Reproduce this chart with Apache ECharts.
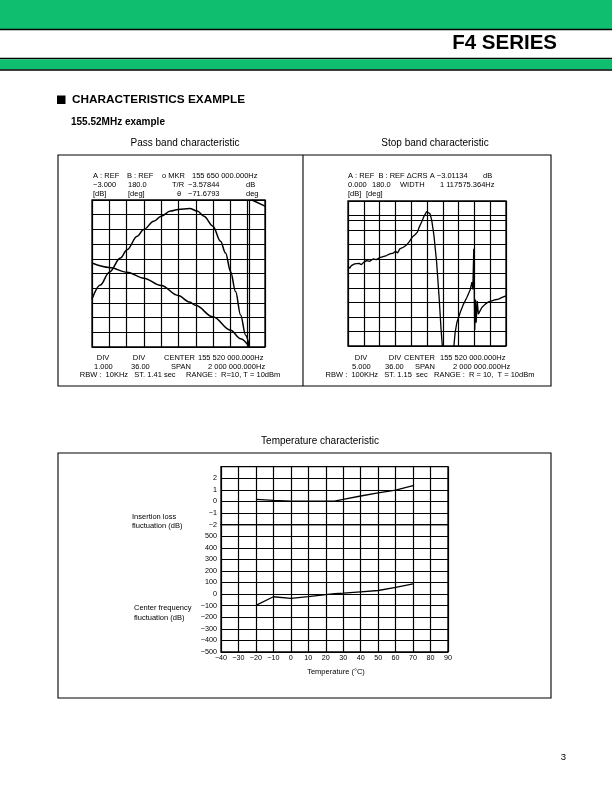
<!DOCTYPE html>
<html><head><meta charset="utf-8">
<script src="https://cdn.jsdelivr.net/npm/echarts@6/dist/echarts.min.js"></script>
<style>html,body{margin:0;padding:0;background:#fff}#c{width:612px;height:792px}</style>
</head><body><div id="c"></div>
<script>
// ---------- Pass band (x: kHz offset from 155.52 MHz) ----------
const passFreq = [-1000, -904, -800, -672, -594, -478, -402, -286, -200, -92, -4, 130, 216, 294, 398, 486, 544, 602, 660, 718, 776, 820];
const passAmp  = [-9.74, -8.78, -7.91, -6.95, -6.38, -5.47, -5.01, -4.44, -4.10, -3.75, -3.64, -3.58, -3.75, -4.10, -4.78, -5.81, -6.61, -7.86, -9.23, -10.83, -12.20, -13.0];
const passPhaseFreq = [-1000, -800, -594, -402, -200, -4, 130, 196, 398, 602, 718, 820];
const passPhase     = [25.6, 14.8, 3.2, -11.5, -29.5, -54.0, -70.0, -78.0, -106.2, -139.0, -159.5, -180.0];
const passWrapFreq  = [850, 1000];
const passWrapPhase = [180, 165];
const passMarkerFreq = 820;

// ---------- Stop band ----------
const stopFreq1 = [-1000, -978, -958, -936, -916, -894, -860, -830, -800, -766, -724, -682, -640, -598, -556, -512, -470, -450, -428, -398, -372, -344, -300, -258, -228, -204, -186, -166, -152, -122, -98, -68, -38, -4, 16, 38, 60, 88, 122, 152, 178, 194, 200];
const stopAmp1  = [-22.5, -23.2, -22.3, -22.85, -21.7, -22.3, -21.5, -21.95, -21.15, -20.55, -20.8, -20.0, -20.2, -19.5, -19.15, -18.8, -18.25, -17.65, -18.0, -17.3, -17.9, -16.5, -15.95, -15.15, -14.2, -13.95, -12.45, -12.8, -11.65, -10.75, -9.0, -7.25, -5.3, -3.6, -3.45, -4.4, -6.7, -11.9, -21.15, -32.7, -44.25, -50.0, -52.5];
const stopFreq2 = [332, 356, 378, 420, 462, 504, 546, 568, 580, 592, 604, 614, 622, 636, 650, 694, 738, 780, 822, 864, 906, 950, 1000];
const stopAmp2  = [-52.5, -45.4, -41.9, -38.45, -35.55, -33.25, -30.7, -28.0, -30.5, -16.5, -44.5, -34.0, -42.0, -34.5, -39.0, -36.7, -35.55, -34.75, -34.4, -34.05, -33.85, -33.25, -32.7];
const stopMarkerDb = -6.5;

// ---------- Temperature ----------
const tempC    = [-20, -10, 0, 10, 20, 25, 30, 40, 50, 60, 70];
const insLoss  = [0.17, 0.09, 0.03, 0.02, 0.02, 0.03, 0.17, 0.47, 0.74, 0.97, 1.37];
const cfShift  = [-97, -23, -37, -22, -5, 3, 8, 20, 31, 58, 89];

const zip = (a, b) => a.map((v, i) => [v, b[i]]);
const FONT = "'Liberation Sans', Arial, Helvetica, sans-serif";
const minus = v => String(v).replace('-', '\u2212');

function T(text, x, y, size, o) {
  o = o || {};
  return {
    type: 'text', x: x, y: y, silent: true,
    style: {
      text: text, fill: '#000',
      font: (o.bold ? 'bold ' : '') + size + 'px ' + FONT,
      align: o.align || 'left', verticalAlign: 'middle',
      textAlign: o.align || 'left', textVerticalAlign: 'middle'
    }
  };
}
function R(x, y, w, h, fill, stroke, lw) {
  return { type: 'rect', silent: true, shape: { x: x, y: y, width: w, height: h },
    style: { fill: fill || 'none', stroke: stroke || 'none', lineWidth: lw || 0 } };
}
function L(x1, y1, x2, y2, lw) {
  return { type: 'line', silent: true, shape: { x1: x1, y1: y1, x2: x2, y2: y2 },
    style: { stroke: '#000', lineWidth: lw || 1 } };
}

const GREEN = '#0fbf6f';
const S = 7.5;
const graphics = [
  R(0, 0, 612, 29, GREEN),
  L(0, 29.5, 612, 29.5, 1.5),
  L(0, 58.5, 612, 58.5, 1.5),
  R(0, 59.2, 612, 10.3, GREEN),
  L(0, 70, 612, 70, 1.5),
  T('F4 SERIES', 557, 43, 20.5, { bold: true, align: 'right' }),
  R(57, 95.5, 8.5, 8.5, '#000'),
  T('CHARACTERISTICS EXAMPLE', 72, 100, 11.8, { bold: true }),
  T('155.52MHz example', 71, 122, 10, { bold: true }),
  T('Pass band characteristic', 185, 143, 10, { align: 'center' }),
  T('Stop band characteristic', 435, 143, 10, { align: 'center' }),
  R(58, 155, 493, 231, 'none', '#000', 1.1),
  L(303, 155, 303, 386, 1.1),
  // pass band header
  T('A : REF', 93, 175.5, S), T('B : REF', 127, 175.5, S), T('o MKR', 162, 175.5, S), T('155 650 000.000Hz', 192, 175.5, S),
  T('\u22123.000', 93, 185, S), T('180.0', 128, 185, S), T('T/R', 172, 185, S), T('\u22123.57844', 188, 185, S), T('dB', 246, 185, S),
  T('[dB]', 93, 194.3, S), T('[deg]', 128, 194.3, S), T('\u03b8', 177, 194.3, S), T('\u221271.6793', 188, 194.3, S), T('deg', 246, 194.3, S),
  // pass band footer
  T('DIV', 103, 358, S, { align: 'center' }), T('DIV', 139, 358, S, { align: 'center' }), T('CENTER', 164, 358, S), T('155 520 000.000Hz', 198, 358, S),
  T('1.000', 94, 366.5, S), T('36.00', 131, 366.5, S), T('SPAN', 171, 366.5, S), T('2 000 000.000Hz', 208, 366.5, S),
  T('RBW :  10KHz   ST. 1.41 sec     RANGE :  R=10, T = 10dBm', 180, 375, S, { align: 'center' }),
  // stop band header
  T('A : REF  B : REF \u0394CRS A \u22123.01134', 348, 175.5, S), T('dB', 483, 175.5, S),
  T('0.000', 348, 185, S), T('180.0', 372, 185, S), T('WIDTH', 400, 185, S), T('1 117575.364Hz', 440, 185, S),
  T('[dB]', 348, 194.3, S), T('[deg]', 366, 194.3, S),
  // stop band footer
  T('DIV', 361, 358, S, { align: 'center' }), T('DIV', 395, 358, S, { align: 'center' }), T('CENTER', 404, 358, S), T('155 520 000.000Hz', 440, 358, S),
  T('5.000', 352, 366.5, S), T('36.00', 385, 366.5, S), T('SPAN', 415, 366.5, S), T('2 000 000.000Hz', 453, 366.5, S),
  T('RBW :  100KHz   ST. 1.15  sec   RANGE :  R = 10,  T = 10dBm', 430, 375, S, { align: 'center' }),
  // temperature
  T('Temperature characteristic', 320, 441, 10, { align: 'center' }),
  R(58, 453, 493, 245, 'none', '#000', 1.1),
  T('Insertion loss', 132, 516.5, S), T('fluctuation (dB)', 132, 525.5, S),
  T('Center frequency', 134, 608, S), T('fluctuation (dB)', 134, 617.5, S),
  T('Temperature (\u00b0C)', 336, 672, S, { align: 'center' }),
  T('3', 566, 757, 9.5, { align: 'right' })
];

const split = { show: true, lineStyle: { color: '#000', width: 1.2 } };
const hiddenX = (min, max, iv, grid) => ({
  type: 'value', gridIndex: grid, min: min, max: max, interval: iv,
  axisLabel: { show: false }, axisTick: { show: false }, axisLine: { show: false }, splitLine: split
});
const hiddenY = (min, max, iv, grid, showSplit) => ({
  type: 'value', gridIndex: grid, min: min, max: max, interval: iv,
  axisLabel: { show: false }, axisTick: { show: false }, axisLine: { show: false },
  splitLine: showSplit ? split : { show: false }
});
const labelStyle = { color: '#000', fontSize: 7.2, fontFamily: FONT };
const gridBox = { show: true, borderColor: '#000', borderWidth: 1.3, backgroundColor: 'transparent' };
const lineS = (xi, yi, data, extra) => Object.assign({
  type: 'line', xAxisIndex: xi, yAxisIndex: yi, data: data, showSymbol: false, symbol: 'none',
  lineStyle: { color: '#000', width: 1.5 }, itemStyle: { color: '#000' }, animation: false, silent: true, clip: true
}, extra || {});

const option = {
  animation: false,
  backgroundColor: '#fff',
  grid: [
    Object.assign({ left: 92, top: 200, width: 173, height: 147 }, gridBox),
    Object.assign({ left: 348, top: 201, width: 158, height: 145 }, gridBox),
    Object.assign({ left: 221, top: 466.7, width: 227, height: 57.9 }, gridBox),
    Object.assign({ left: 221, top: 524.6, width: 227, height: 127.4 }, gridBox)
  ],
  xAxis: [
    hiddenX(-1000, 1000, 200, 0),
    hiddenX(-1000, 1000, 200, 1),
    hiddenX(-40, 90, 10, 2),
    { type: 'value', gridIndex: 3, min: -40, max: 90, interval: 10,
      axisLabel: { show: true, margin: 3, formatter: v => minus(v), ...labelStyle },
      axisTick: { show: false }, axisLine: { show: false }, splitLine: split }
  ],
  yAxis: [
    hiddenY(-13, -3, 1, 0, true),
    hiddenY(-180, 180, 36, 0, false),
    hiddenY(-50, 0, 5, 1, true),
    { type: 'value', gridIndex: 2, min: -2, max: 3, interval: 1,
      axisLabel: { show: true, margin: 4, formatter: v => v === 3 ? '' : minus(v), ...labelStyle },
      axisTick: { show: false }, axisLine: { show: false }, splitLine: split },
    { type: 'value', gridIndex: 3, min: -500, max: 600, interval: 100,
      axisLabel: { show: true, margin: 4, formatter: v => v === 600 ? '' : minus(v), ...labelStyle },
      axisTick: { show: false }, axisLine: { show: false }, splitLine: split }
  ],
  series: [
    lineS(0, 0, zip(passFreq, passAmp), { smooth: 0.35, smoothMonotone: 'x',
      markLine: { silent: true, symbol: 'none', label: { show: false }, animation: false,
        lineStyle: { color: '#000', width: 1.2, type: 'solid' }, data: [{ xAxis: passMarkerFreq }] } }),
    lineS(0, 1, zip(passPhaseFreq, passPhase), { smooth: 0.35, smoothMonotone: 'x' }),
    lineS(0, 1, zip(passWrapFreq, passWrapPhase)),
    lineS(1, 2, zip(stopFreq1, stopAmp1), { lineStyle: { color: '#000', width: 1.3 },
      markLine: { silent: true, symbol: 'none', label: { show: false }, animation: false,
        lineStyle: { color: '#000', width: 1.2, type: 'solid' }, data: [{ yAxis: stopMarkerDb }] } }),
    lineS(1, 2, zip(stopFreq2, stopAmp2), { lineStyle: { color: '#000', width: 1.3 } }),
    lineS(2, 3, zip(tempC, insLoss), { lineStyle: { color: '#000', width: 1.3 } }),
    lineS(3, 4, zip(tempC, cfShift), { lineStyle: { color: '#000', width: 1.3 } })
  ],
  graphic: graphics
};

const chart = echarts.init(document.getElementById('c'), null, { renderer: 'canvas' });
chart.setOption(option);
</script>
</body></html>
